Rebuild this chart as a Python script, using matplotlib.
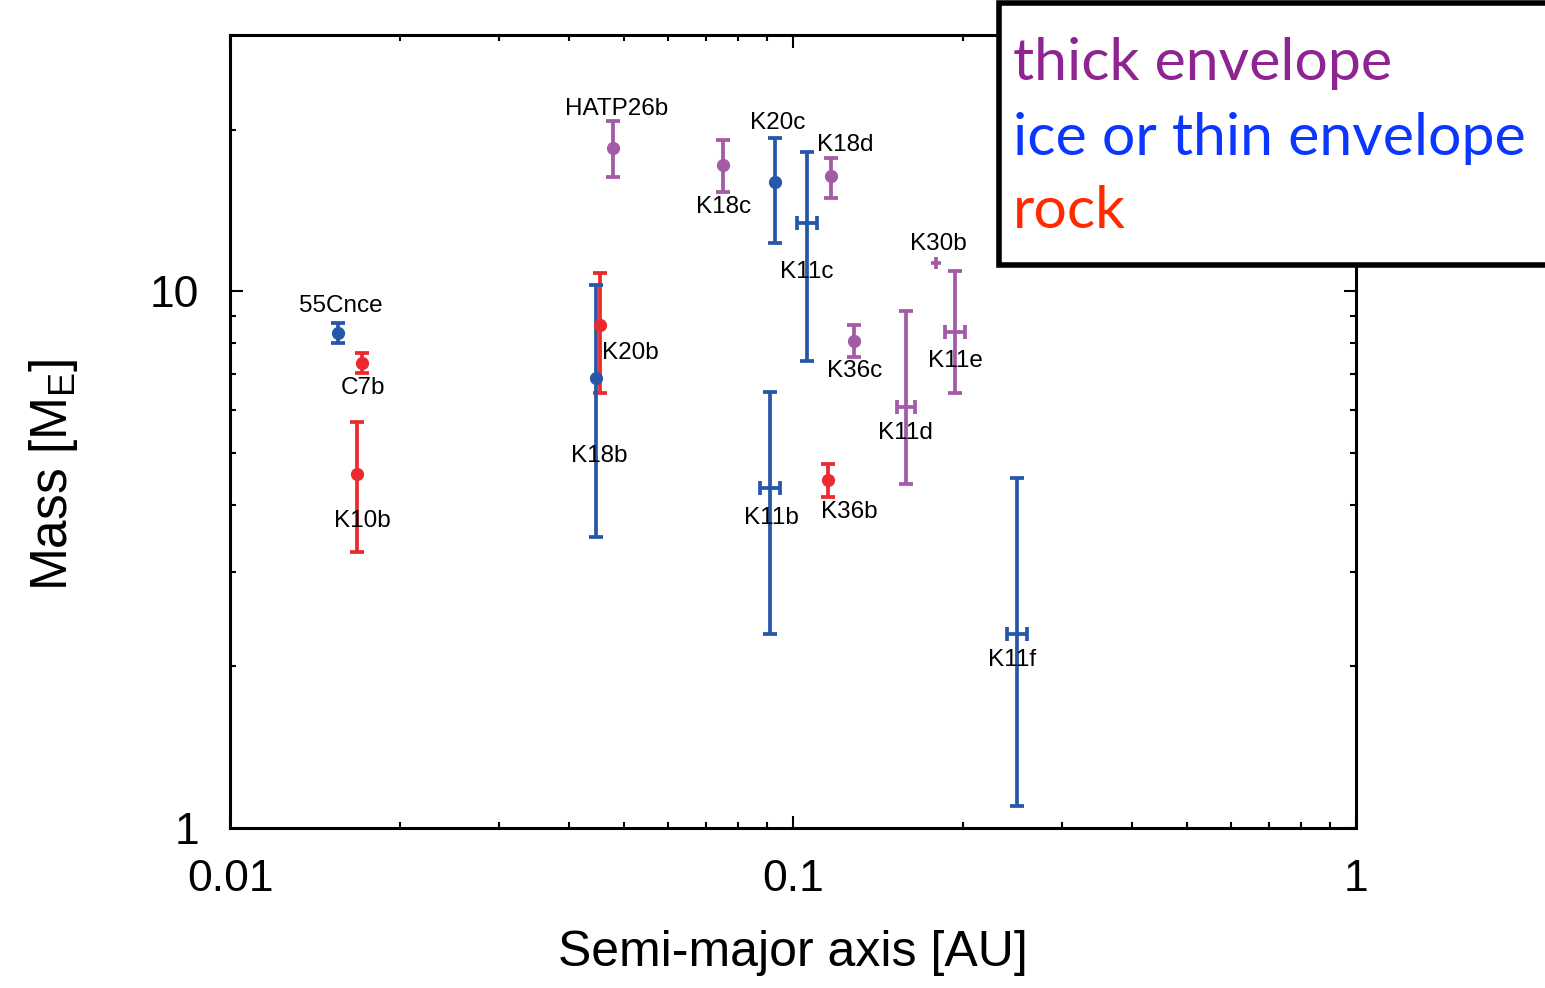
import matplotlib
matplotlib.use('Agg')
import matplotlib.pyplot as plt
from matplotlib.patches import Rectangle
from matplotlib.ticker import FixedLocator, LogLocator, NullFormatter, FixedFormatter

plt.rcParams['font.family'] = ['Liberation Sans', 'DejaVu Sans']
plt.rcParams['mathtext.fontset'] = 'custom'
plt.rcParams['mathtext.rm'] = 'Liberation Sans'

# planets: semi-major axis [AU], mass [M_E] with lower/upper errors
names = ['55Cnce', 'C7b', 'K10b', 'K20b', 'K18b', 'HATP26b', 'K18c', 'K20c',
         'K11c', 'K18d', 'K30b', 'K36c', 'K11d', 'K11e', 'K11b', 'K36b', 'K11f']
kind = ['ice', 'rock', 'rock', 'rock', 'ice', 'thick', 'thick', 'ice',
        'ice', 'thick', 'thick', 'thick', 'thick', 'thick', 'ice', 'rock', 'ice']
a = [0.01556, 0.01716, 0.01683, 0.0454, 0.0447, 0.0479, 0.0751, 0.0929,
     0.106, 0.1168, 0.1795, 0.1283, 0.159, 0.194, 0.091, 0.1154, 0.250]
a_err = [0, 0, 0, 0, 0, 0, 0, 0,
         0.0045, 0, 0.004, 0, 0.006, 0.008, 0.0037, 0, 0.010]
mass = [8.37, 7.35, 4.56, 8.65, 6.89, 18.5, 17.2, 16.0,
        13.4, 16.4, 11.3, 8.07, 6.09, 8.39, 4.29, 4.44, 2.30]
m_lo = [0.37, 0.31, 1.29, 2.19, 3.40, 2.2, 1.9, 3.7,
        6.0, 1.5, 0.3, 0.53, 1.71, 1.93, 1.99, 0.30, 1.20]
m_hi = [0.35, 0.32, 1.15, 2.15, 3.37, 2.2, 1.9, 3.3,
        4.8, 1.3, 0.3, 0.58, 3.09, 2.51, 2.20, 0.33, 2.19]

# label offsets in pixels from each point
lab_dx = [3, 1, 5, 30, 3, 4, 1, 3, -1, 14, 2, 1, -1, 0, 1, 21, -5]
lab_dy = [27, -25, -47, -28, -78, 39, -42, 59, -49, 31, 19, -30, -26, -29, -30, -32, -26]

colors = {'thick': '#a35aa7', 'ice': '#2757a8', 'rock': '#eb2a2d'}
legend_items = [('thick envelope', '#8e2392'),
                ('ice or thin envelope', '#0a36ff'),
                ('rock', '#ff2a00')]

fig = plt.figure(figsize=(15.45, 9.88), dpi=100)
ax = fig.add_axes([0.1489, 0.1619, 0.7288, 0.8027])
ax.set_xscale('log')
ax.set_yscale('log')

order = ['rock', 'ice', 'thick']
for grp in order:
    for i in range(len(names)):
        if kind[i] != grp:
            continue
        c = colors[grp]
        tiny = a_err[i] > 0 and (m_lo[i] + m_hi[i]) < 1
        ax.errorbar(a[i], mass[i],
                    xerr=[[a_err[i]], [a_err[i]]] if a_err[i] > 0 else None,
                    yerr=[[m_lo[i]], [m_hi[i]]],
                    fmt='o' if a_err[i] == 0 else 'none',
                    color=c, ms=8.5, mec=c, elinewidth=2.7,
                    capsize=0 if tiny else 4.8, capthick=2.7)

for i in range(len(names)):
    ax.annotate(names[i], (a[i], mass[i]), xytext=(lab_dx[i], lab_dy[i]),
                textcoords='offset pixels', ha='center', va='center',
                fontsize=17.5, color='black')

ax.set_xlim(0.01, 1)
ax.set_ylim(1, 30)

ax.xaxis.set_major_locator(FixedLocator([0.01, 0.1, 1]))
ax.xaxis.set_major_formatter(FixedFormatter(['0.01', '0.1', '1']))
ax.xaxis.set_minor_locator(LogLocator(base=10, subs=range(2, 10)))
ax.xaxis.set_minor_formatter(NullFormatter())
ax.yaxis.set_major_locator(FixedLocator([1, 10]))
ax.yaxis.set_major_formatter(FixedFormatter(['1', '10']))
ax.yaxis.set_minor_locator(LogLocator(base=10, subs=range(2, 10)))
ax.yaxis.set_minor_formatter(NullFormatter())

ax.tick_params(which='both', direction='in', top=True, right=True, width=1.5)
ax.tick_params(which='major', length=9, labelsize=32)
ax.tick_params(which='minor', length=4.5)
ax.tick_params(axis='x', which='major', pad=22)
ax.tick_params(axis='y', which='major', pad=22)
for sp in ax.spines.values():
    sp.set_linewidth(2.2)

ax.set_xlabel('Semi-major axis [AU]', fontsize=36)
ax.set_ylabel('Mass [M$_\\mathrm{E}$]', fontsize=37)
ax.xaxis.set_label_coords(0.5, -0.128)
ax.yaxis.set_label_coords(-0.133, 0.445)

# legend box sitting over the top right corner
box = Rectangle((0.6465, 0.7318), 0.4, 0.265, transform=fig.transFigure,
                facecolor='white', edgecolor='black', lw=4, zorder=10, clip_on=False)
fig.add_artist(box)
base_y = [0.919, 0.843, 0.769]
for (txt, col), yy in zip(legend_items, base_y):
    fig.text(0.6557, yy, txt, color=col, fontsize=42.5, family=['Lato', 'DejaVu Sans'],
             va='baseline', ha='left', zorder=11)

fig.savefig('out.png', dpi=100)
